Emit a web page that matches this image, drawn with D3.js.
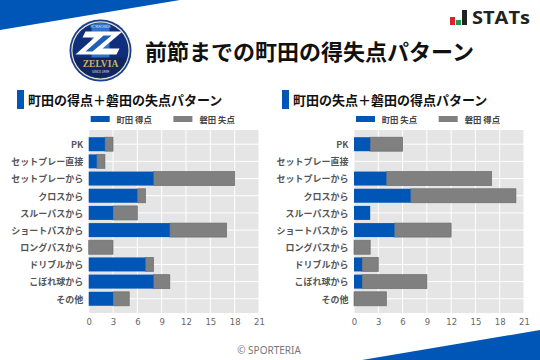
<!DOCTYPE html>
<html><head><meta charset="utf-8">
<script src="https://cdn.jsdelivr.net/npm/d3@7"></script>
<style>html,body{margin:0;padding:0;background:#fff}svg{display:block}
text{font-family:"Noto Sans CJK JP","Noto Sans",sans-serif}</style></head>
<body><svg id="c" width="540" height="360"></svg>
<script>
const categories = ["PK","セットプレー直接","セットプレーから","クロスから","スルーパスから","ショートパスから","ロングパスから","ドリブルから","こぼれ球から","その他"];
const machidaGoals = [2,1,8,6,3,10,0,7,8,3];
const iwataConceded = [1,1,10,1,3,7,3,1,2,2];
const machidaConceded = [2,0,4,7,2,5,0,1,1,0];
const iwataGoals = [4,0,13,13,0,7,2,2,8,4];
const xTicks = [0,3,6,9,12,15,18,21];
const BLUE = "#0056b6", GRAY = "#808080";

const svg = d3.select("#c");
svg.append("polygon").attr("points","0,0 180,0 0,30").attr("fill",BLUE);
svg.append("polygon").attr("points","362,360 540,330 540,360").attr("fill",BLUE);

// Club crest
const crest = svg.append("g").attr("transform","translate(100.5,50.5)");
crest.append("circle").attr("r",31).attr("fill","#1a3f8f");
crest.append("circle").attr("r",29.2).attr("fill","#e9e3c8");
crest.append("circle").attr("r",28).attr("fill","#0f2f7d");
crest.append("clipPath").attr("id","cc").append("circle").attr("r",27.5);
const inner = crest.append("g").attr("clip-path","url(#cc)");
inner.append("rect").attr("x",-9).attr("y",-28).attr("width",18).attr("height",56).attr("fill","#2d73c8");
inner.append("rect").attr("x",-28).attr("y",7).attr("width",56).attr("height",21).attr("fill","#10265f");
crest.append("path").attr("d","M-15,-19 L22,-19 L2,-2 L19,-2 L16,4 L-25,4 L-6,-13 L-18,-13 Z").attr("fill","#fff");
crest.append("path").attr("d","M3,-15 L11,-15 L-8,1 L-15,1 Z").attr("fill","#1f5fb8");
crest.append("text").attr("y",16).attr("text-anchor","middle").attr("font-size",9.5).attr("font-weight",700)
  .attr("fill","#c9b469").style("font-family","'Liberation Serif',serif").text("ZELVIA");
crest.append("text").attr("y",-22.5).attr("text-anchor","middle").attr("font-size",3.5).attr("fill","#e8e8e8").text("FC MACHIDA");
crest.append("text").attr("y",22.5).attr("text-anchor","middle").attr("font-size",3.2).attr("fill","#e8e8e8").text("SINCE 1989");

svg.append("text").attr("x",145).attr("y",60).attr("font-size",22).attr("font-weight",700).attr("fill","#111")
  .text("前節までの町田の得失点パターン");

// STATs logo
const logo = svg.append("g");
logo.append("rect").attr("x",450).attr("y",17).attr("width",5).attr("height",8).attr("fill","#e0202a");
logo.append("rect").attr("x",456).attr("y",20).attr("width",5).attr("height",5).attr("fill","#1f9a4c");
logo.append("rect").attr("x",462).attr("y",10).attr("width",5).attr("height",15).attr("fill","#222");
logo.append("text").attr("x",472).attr("y",24).attr("font-size",18).attr("font-weight",700).attr("fill","#222")
  .style("font-family","'Open Sans',sans-serif").attr("textLength",58).attr("lengthAdjust","spacingAndGlyphs").text("STATs");

svg.append("text").attr("x",269).attr("y",354).attr("text-anchor","middle").attr("font-size",10).attr("fill","#777")
  .style("font-family","'Noto Sans',sans-serif").text("© SPORTERIA");

function panel(cfg){
  const {left,right,title,titleX,barX,legendA,legendB,a,b} = cfg;
  const x = d3.scaleLinear().domain([0,21]).range([left,right]);
  const y = d3.scaleBand().domain(categories).range([130,313]).paddingInner(.185).paddingOuter(.42);
  const g = svg.append("g");
  g.append("rect").attr("x",barX).attr("y",90).attr("width",7).attr("height",19).attr("fill",BLUE);
  g.append("text").attr("x",titleX).attr("y",104.5).attr("font-size",13).attr("font-weight",700).attr("fill","#111").text(title);
  // legend
  const lx = left-0.3;
  g.append("rect").attr("x",lx+2.3).attr("y",116).attr("width",19).attr("height",6).attr("fill",BLUE);
  g.append("text").attr("x",lx+28).attr("y",123).attr("font-size",8.4).attr("font-weight",700).attr("fill","#444").text(legendA);
  g.append("rect").attr("x",lx+85).attr("y",116).attr("width",19).attr("height",6).attr("fill",GRAY);
  g.append("text").attr("x",lx+111).attr("y",123).attr("font-size",8.4).attr("font-weight",700).attr("fill","#444").text(legendB);
  // plot bg
  g.append("rect").attr("x",left).attr("y",130).attr("width",right-left).attr("height",183).attr("fill","#e5e5e5");
  g.selectAll(".vg").data(xTicks).join("line").attr("x1",d=>x(d)).attr("x2",d=>x(d)).attr("y1",130).attr("y2",313)
    .attr("stroke","#fff").attr("stroke-width",1);
  g.selectAll(".hg").data(categories).join("line").attr("x1",left).attr("x2",right)
    .attr("y1",d=>y(d)+y.bandwidth()/2).attr("y2",d=>y(d)+y.bandwidth()/2).attr("stroke","#fff").attr("stroke-width",1);
  // bars
  const rows = categories.map((c,i)=>({c,a:a[i],b:b[i]}));
  g.selectAll(".b").data(rows.filter(d=>d.b>0)).join("rect")
    .attr("x",d=>x(d.a)).attr("y",d=>y(d.c)).attr("width",d=>x(d.a+d.b)-x(d.a)).attr("height",y.bandwidth())
    .attr("fill",GRAY).attr("stroke","#666").attr("stroke-opacity",.8).attr("stroke-width",.8);
  g.selectAll(".a").data(rows.filter(d=>d.a>0)).join("rect")
    .attr("x",d=>x(0)).attr("y",d=>y(d.c)).attr("width",d=>x(d.a)-x(0)).attr("height",y.bandwidth())
    .attr("fill",BLUE);
  // axes
  const ax = g.append("g").attr("transform","translate(0,313)")
    .call(d3.axisBottom(x).tickValues(xTicks).tickSize(0).tickPadding(6));
  ax.select(".domain").remove();
  ax.selectAll("text").attr("font-size",8.5).attr("fill","#666").style("font-family","'DejaVu Sans',sans-serif");
  const ay = g.append("g").attr("transform",`translate(${left},0)`)
    .call(d3.axisLeft(y).tickSize(0).tickPadding(5.5));
  ay.select(".domain").remove();
  ay.selectAll("text").attr("font-size",9).attr("font-weight",700).attr("fill","#555").attr("dy","0.42em");
}
panel({left:88.7,right:259,barX:17,titleX:28,title:"町田の得点＋磐田の失点パターン",legendA:"町田 得点",legendB:"磐田 失点",a:machidaGoals,b:iwataConceded});
panel({left:354,right:524,barX:282,titleX:293,title:"町田の失点＋磐田の得点パターン",legendA:"町田 失点",legendB:"磐田 得点",a:machidaConceded,b:iwataGoals});
</script></body></html>
